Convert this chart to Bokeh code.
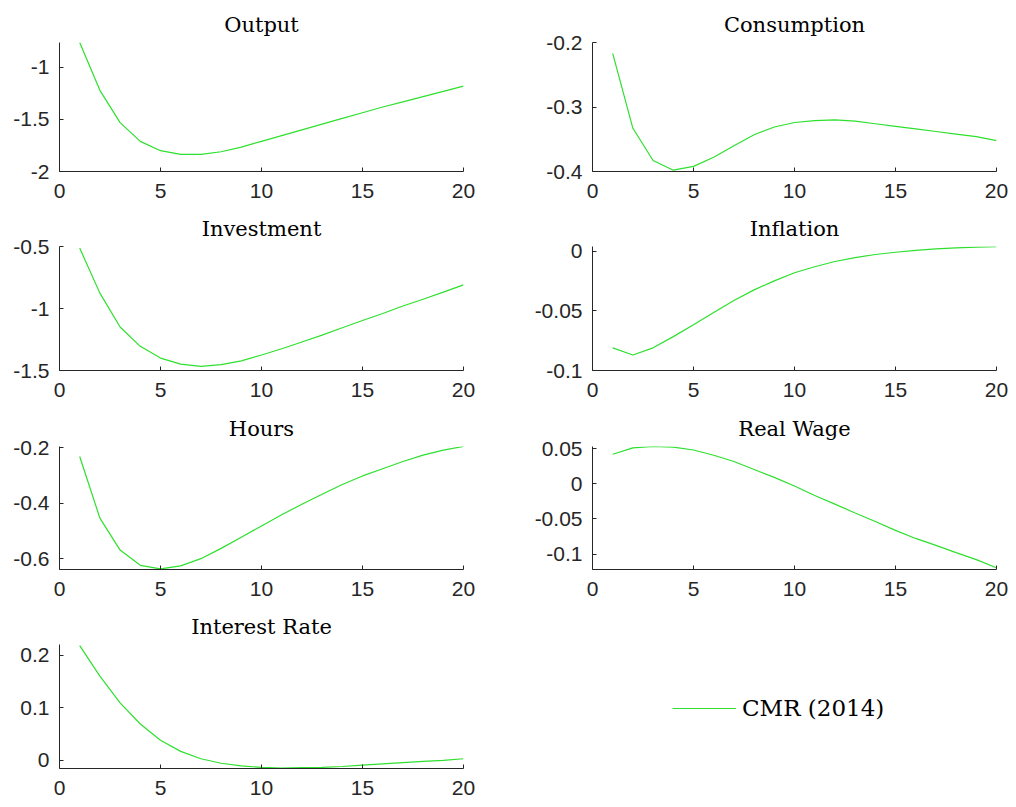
import numpy as np
from bokeh.plotting import figure
from bokeh.layouts import column, row
from bokeh.models import Range1d, FixedTicker, CustomJSTickFormatter, Legend, LegendItem
from bokeh.embed import file_html
from bokeh.resources import INLINE

# ---------------- data ----------------
periods = list(range(1, 21))
x_ticks = [0, 5, 10, 15, 20]

output = [-0.76, -1.22, -1.53, -1.71, -1.80, -1.835, -1.835, -1.81, -1.765, -1.71,
          -1.655, -1.60, -1.545, -1.49, -1.435, -1.38, -1.33, -1.28, -1.23, -1.18]
consumption = [-0.217, -0.333, -0.383, -0.398, -0.392, -0.378, -0.360, -0.343, -0.331, -0.324,
               -0.321, -0.320, -0.322, -0.326, -0.330, -0.334, -0.338, -0.342, -0.346, -0.352]
investment = [-0.513, -0.876, -1.149, -1.305, -1.400, -1.448, -1.466, -1.453, -1.422, -1.375,
              -1.325, -1.270, -1.215, -1.155, -1.097, -1.040, -0.980, -0.925, -0.868, -0.810]
inflation = [-0.081, -0.087, -0.081, -0.0716, -0.0616, -0.0513, -0.0413, -0.0324, -0.0248, -0.018,
             -0.013, -0.0086, -0.0054, -0.0027, -0.0008, 0.0008, 0.0020, 0.0028, 0.0034, 0.0038]
hours = [-0.231, -0.453, -0.568, -0.623, -0.636, -0.625, -0.599, -0.562, -0.522, -0.481,
         -0.441, -0.403, -0.367, -0.332, -0.301, -0.275, -0.249, -0.226, -0.208, -0.195]
real_wage = [0.042, 0.051, 0.053, 0.052, 0.048, 0.0406, 0.0316, 0.0203, 0.009, -0.0032,
             -0.0168, -0.029, -0.0416, -0.0538, -0.0664, -0.0778, -0.0877, -0.098, -0.108, -0.1195]
interest_rate = [0.218, 0.160, 0.109, 0.069, 0.038, 0.017, 0.003, -0.0055, -0.0104, -0.0135,
                 -0.0147, -0.014, -0.0135, -0.0117, -0.0092, -0.0068, -0.0044, -0.0018, 0.0, 0.003]

titles = ["Output", "Consumption", "Investment", "Inflation", "Hours", "Real Wage", "Interest Rate"]
series = [output, consumption, investment, inflation, hours, real_wage, interest_rate]
y_limits = [(-2.0, -0.76), (-0.4, -0.2), (-1.5, -0.5), (-0.1, 0.004),
            (-0.638, -0.195), (-0.122, 0.053), (-0.0155, 0.22)]
y_ticks = [[-2, -1.5, -1], [-0.4, -0.3, -0.2], [-1.5, -1, -0.5], [-0.1, -0.05, 0],
           [-0.6, -0.4, -0.2], [-0.1, -0.05, 0, 0.05], [0, 0.1, 0.2]]
legend_label = "CMR (2014)"

# ---------------- style ----------------
GREEN = "#2ee02e"
AX = "#262626"
SERIF = "DejaVu Serif"
SANS = "Liberation Sans"

LEFT_W, RIGHT_W = 521, 487
col_borders = [(59, 58), (71, 12)]          # (left, right) per column
row_borders = [(42, 129, 37), (34, 128, 38), (34, 127, 37), (34, 128, 31)]  # top, frame, bottom


def panel(i):
    r, c = divmod(i, 2)
    bl, br = col_borders[c]
    bt, fh, bb = row_borders[r]
    w = LEFT_W if c == 0 else RIGHT_W
    p = figure(width=w, height=bt + fh + bb,
               min_border_left=bl, min_border_right=br,
               min_border_top=bt, min_border_bottom=bb,
               x_range=Range1d(0, 20), y_range=Range1d(*y_limits[i]),
               output_backend="svg", toolbar_location=None, title=titles[i])
    p.line(periods, series[i], line_color=GREEN, line_width=1.2)
    p.title.align = "center"
    p.title.text_font = SERIF
    p.title.text_font_size = "21px"
    p.title.text_font_style = "normal"
    p.title.text_color = "black"
    p.title.standoff = 12
    p.xaxis.ticker = FixedTicker(ticks=x_ticks)
    p.yaxis.ticker = FixedTicker(ticks=y_ticks[i])
    p.yaxis.formatter = CustomJSTickFormatter(code="return String(Math.round(tick*1000)/1000);")
    for ax in (p.xaxis, p.yaxis):
        ax.axis_line_color = AX
        ax.axis_line_width = 1
        ax.major_tick_line_color = AX
        ax.major_tick_in = 4
        ax.major_tick_out = 0
        ax.minor_tick_line_color = None
        ax.major_label_text_font = SANS
        ax.major_label_text_font_size = "21px"
        ax.major_label_text_color = AX
    p.yaxis.major_label_standoff = 10
    p.xaxis.major_label_standoff = 12
    p.xgrid.visible = False
    p.ygrid.visible = False
    p.outline_line_color = None
    p.background_fill_color = "white"
    p.border_fill_color = "white"
    return p


panels = [panel(i) for i in range(7)]

# legend cell
bt, fh, bb = row_borders[3]
leg = figure(width=RIGHT_W, height=bt + fh + bb, x_axis_type=None, y_axis_type=None,
             x_range=Range1d(0, 1), y_range=Range1d(0, 1),
             toolbar_location=None, output_backend="svg", min_border=0)
leg.outline_line_color = None
leg.xgrid.visible = False
leg.ygrid.visible = False
rr = leg.line(x=np.array([np.nan]), y=np.array([np.nan]), line_color=GREEN, line_width=1.2)
legend = Legend(items=[LegendItem(label=legend_label, renderers=[rr])],
                location=(151, 47), glyph_width=64, glyph_height=20, label_standoff=6,
                padding=0, margin=0, border_line_color=None, background_fill_alpha=0,
                label_text_font=SERIF, label_text_font_size="23px", label_text_color="black")
leg.add_layout(legend, "center")

layout = column(
    row(panels[0], panels[1]),
    row(panels[2], panels[3]),
    row(panels[4], panels[5]),
    row(panels[6], leg),
)

open("out.html", "w").write(file_html(layout, INLINE))
